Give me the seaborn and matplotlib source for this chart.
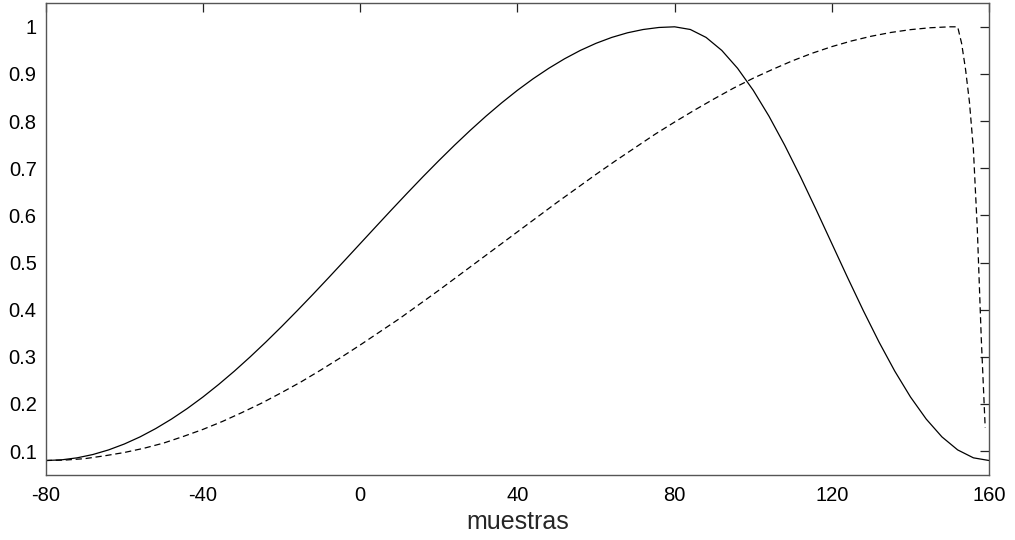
import matplotlib
matplotlib.use("Agg")
import matplotlib.pyplot as plt
import seaborn as sns
import pandas as pd

# Solid curve (samples -80..160, step 4)
solid_x = list(range(-80, 161, 4))
solid_y = [0.0800, 0.0814, 0.0857, 0.0927, 0.1025, 0.1150, 0.1301, 0.1478, 0.1679, 0.1902,
           0.2147, 0.2413, 0.2696, 0.2997, 0.3312, 0.3640, 0.3979, 0.4326, 0.4680, 0.5039,
           0.5400, 0.5761, 0.6120, 0.6474, 0.6822, 0.7160, 0.7488, 0.7803, 0.8104, 0.8387,
           0.8653, 0.8898, 0.9121, 0.9322, 0.9499, 0.9650, 0.9775, 0.9873, 0.9943, 0.9986,
           1.0000,
           0.9943, 0.9775, 0.9499, 0.9121, 0.8653, 0.8104, 0.7488, 0.6822, 0.6120, 0.5400,
           0.4680, 0.3979, 0.3312, 0.2696, 0.2147, 0.1679, 0.1301, 0.1025, 0.0857, 0.0800]

# Dashed curve
dashed_x = list(range(-80, 151, 5)) + [152, 153, 154, 155, 156, 157, 158, 159]
dashed_y = [0.080, 0.081, 0.084, 0.090, 0.097, 0.106, 0.117, 0.131, 0.146, 0.163,
            0.182, 0.202, 0.224, 0.247, 0.272, 0.298, 0.325, 0.353, 0.381, 0.411,
            0.441, 0.472, 0.503, 0.534, 0.565, 0.596, 0.627, 0.657, 0.687, 0.716,
            0.744, 0.772, 0.798, 0.823, 0.847, 0.870, 0.891, 0.910, 0.928, 0.944,
            0.958, 0.970, 0.980, 0.988, 0.994, 0.998, 1.000,
            1.000, 0.965, 0.910, 0.840, 0.740, 0.570, 0.340, 0.150]

x_ticks = [-80, -40, 0, 40, 80, 120, 160]
y_ticks = [0.1, 0.2, 0.3, 0.4, 0.5, 0.6, 0.7, 0.8, 0.9, 1.0]
y_tick_labels = ["0.1", "0.2", "0.3", "0.4", "0.5", "0.6", "0.7", "0.8", "0.9", "1"]
x_label = "muestras"

sns.set_style("white")
plt.rcParams['font.family'] = ['Liberation Sans', 'DejaVu Sans']

fig = plt.figure(figsize=(10.15, 5.4), dpi=100)
ax = fig.add_axes([0.045, 0.121, 0.9295, 0.873])

df_s = pd.DataFrame({"x": solid_x, "y": solid_y})
df_d = pd.DataFrame({"x": dashed_x, "y": dashed_y})
sns.lineplot(data=df_s, x="x", y="y", ax=ax, color="black", linewidth=0.9, sort=False)
sns.lineplot(data=df_d, x="x", y="y", ax=ax, color="black", linewidth=0.9, sort=False,
             linestyle=(0, (5, 3)))

ax.set_xlim(-80, 160)
ax.set_ylim(0.05, 1.05)
ax.set_xticks(x_ticks)
ax.set_xticklabels([str(v) for v in x_ticks])
ax.set_yticks(y_ticks)
ax.set_yticklabels(y_tick_labels)
ax.tick_params(direction="in", length=6.5, width=0.9, color="#222222",
               top=True, right=True, labelsize=14.5, labelcolor="black")
ax.tick_params(axis="y", pad=6.5)
ax.tick_params(axis="x", pad=8)
for s in ax.spines.values():
    s.set_visible(True)
    s.set_color("#555555")
    s.set_linewidth(1.0)
ax.set_xlabel(x_label, fontsize=18, labelpad=4)
ax.set_ylabel("")

fig.savefig("out.png", dpi=100)
